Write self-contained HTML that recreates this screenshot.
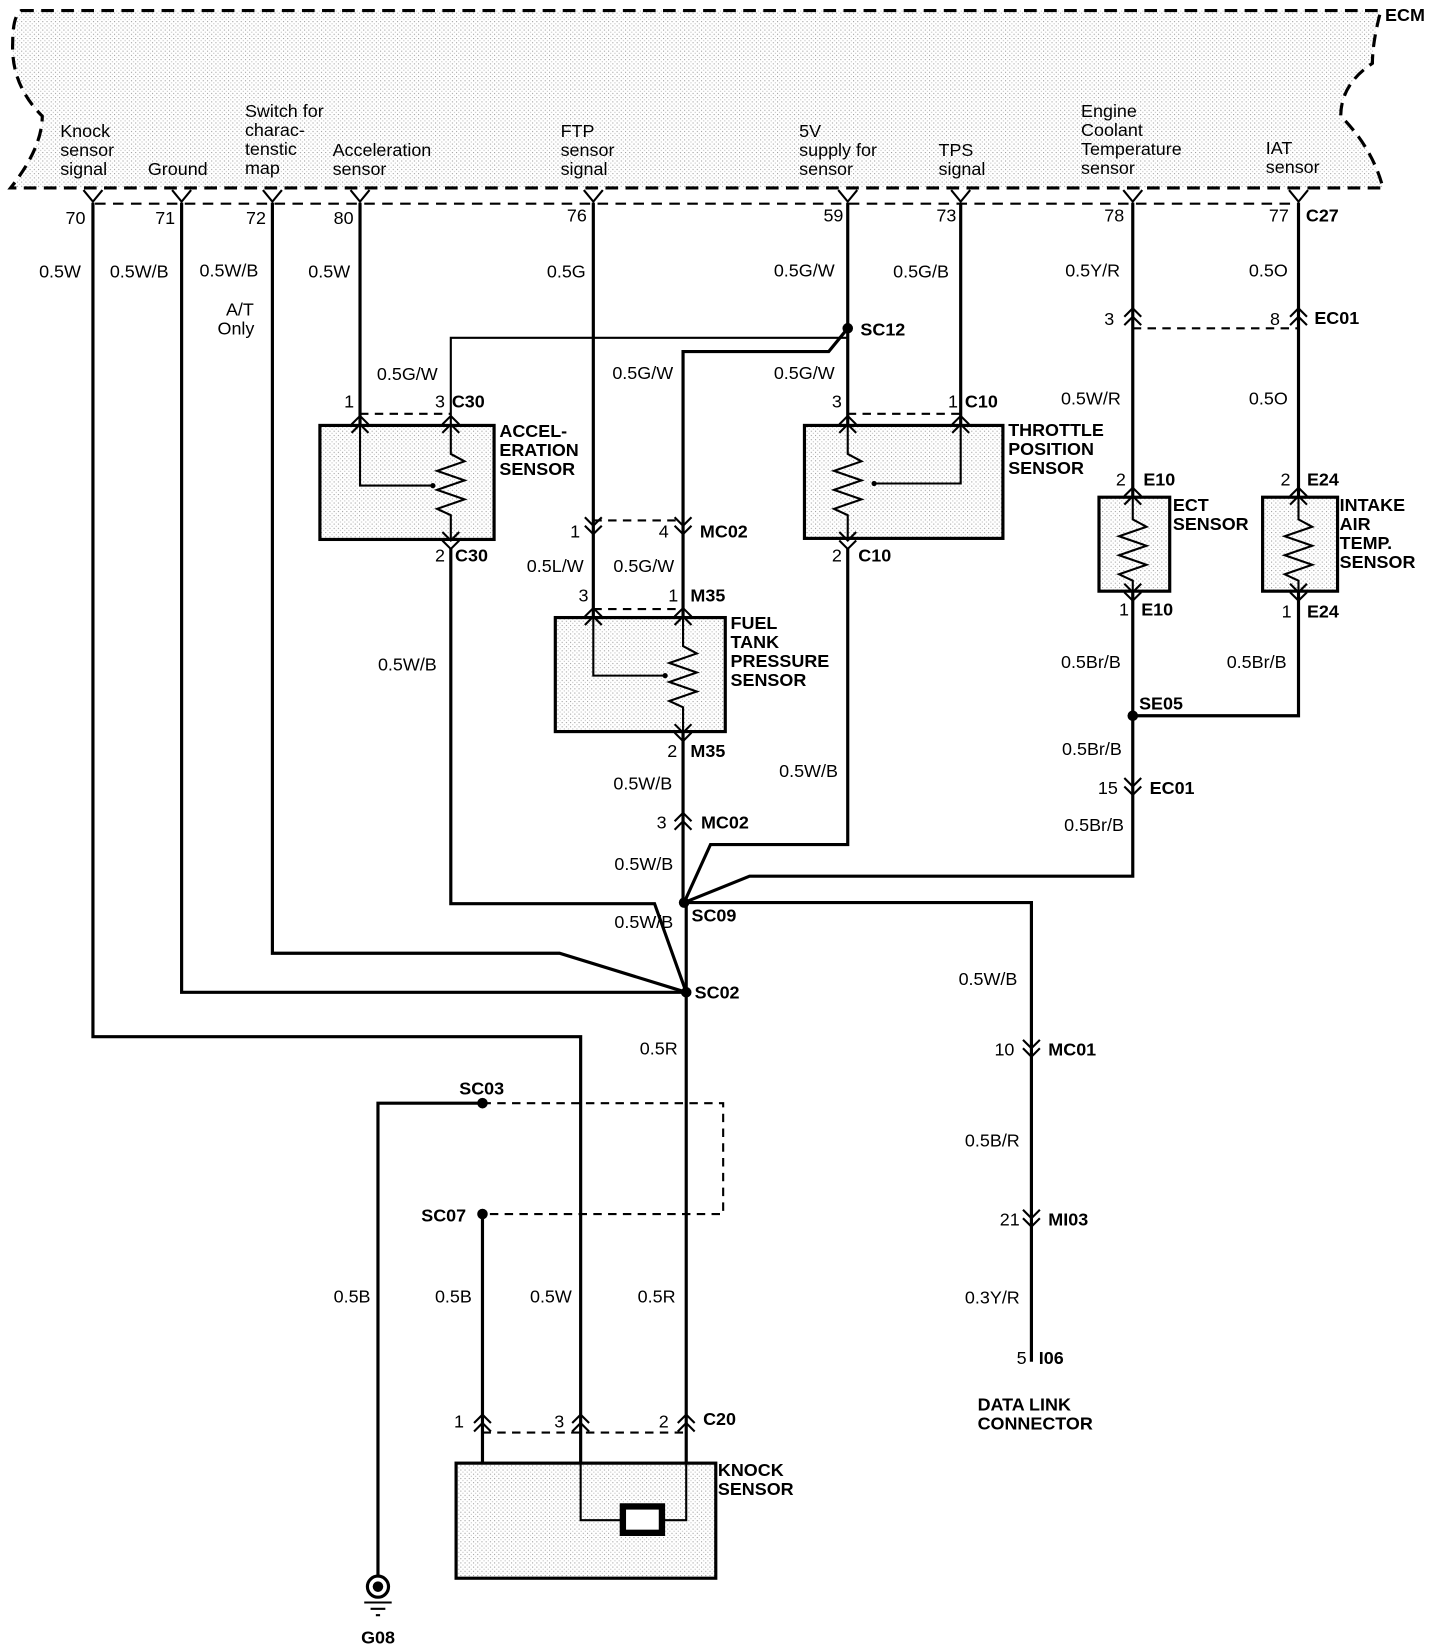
<!DOCTYPE html>
<html><head><meta charset="utf-8"><style>
html,body{margin:0;padding:0;background:#fff;}
svg{display:block}
text{font-family:"Liberation Sans",Arial,sans-serif;font-size:17px;fill:#000}
.b{font-weight:bold}
</style></head><body>
<svg width="1440" height="1650" viewBox="0 0 1364 1563" xmlns="http://www.w3.org/2000/svg">
<defs>
<pattern id="st" width="4" height="4" patternUnits="userSpaceOnUse"><rect width="4" height="4" fill="#fff"/><rect x="0" y="0" width="1" height="1" fill="#999"/><rect x="2" y="2" width="1" height="1" fill="#bbb"/></pattern>
</defs>
<!-- ECM -->
<path d="M20,10 L1308,10 Q1300,40 1300,60 Q1270,80 1270,110 Q1300,140 1310,178 L10,178 Q40,140 40,110 Q10,80 12,40 Q12,15 20,10 Z" fill="url(#st)" stroke="#000" stroke-width="3" stroke-dasharray="12,7"/>
<text x="1312" y="20" class="b">ECM</text>
<line x1="90" y1="193" x2="1230" y2="193" stroke="#000" stroke-width="2" stroke-dasharray="10,7"/>
<g>
<text x="57" y="130">Knock</text><text x="57" y="148">sensor</text><text x="57" y="166">signal</text>
<text x="140" y="166">Ground</text>
<text x="232" y="111">Switch for</text><text x="232" y="129">charac-</text><text x="232" y="147">tenstic</text><text x="232" y="165">map</text>
<text x="315" y="148">Acceleration</text><text x="315" y="166">sensor</text>
<text x="531" y="130">FTP</text><text x="531" y="148">sensor</text><text x="531" y="166">signal</text>
<text x="757" y="130">5V</text><text x="757" y="148">supply for</text><text x="757" y="166">sensor</text>
<text x="889" y="148">TPS</text><text x="889" y="166">signal</text>
<text x="1024" y="111">Engine</text><text x="1024" y="129">Coolant</text><text x="1024" y="147">Temperature</text><text x="1024" y="165">sensor</text>
<text x="1199" y="146">IAT</text><text x="1199" y="164">sensor</text>
</g>
<!-- Y pin marks -->
<g stroke="#000" stroke-width="2" fill="none">
<path d="M79,180 L88,191 L97,180 M163,180 L172,191 L181,180 M249,180 L258,191 L267,180 M332,180 L341,191 L350,180 M553,180 L562,191 L571,180 M794,180 L803,191 L812,180 M901,180 L910,191 L919,180 M1064,180 L1073,191 L1082,180 M1221,180 L1230,191 L1239,180"/>
</g>
<g font-size="17">
<text x="62" y="212">70</text><text x="147" y="212">71</text><text x="233" y="212">72</text><text x="316" y="212">80</text><text x="537" y="210">76</text><text x="780" y="210">59</text><text x="887" y="210">73</text><text x="1046" y="210">78</text><text x="1202" y="210">77</text><text x="1237" y="210" class="b">C27</text>
<text x="37" y="263">0.5W</text><text x="104" y="263">0.5W/B</text><text x="189" y="262">0.5W/B</text><text x="292" y="263">0.5W</text><text x="518" y="263">0.5G</text><text x="733" y="262">0.5G/W</text><text x="846" y="263">0.5G/B</text><text x="1009" y="262">0.5Y/R</text><text x="1183" y="262">0.5O</text>
<text x="214" y="299">A/T</text><text x="206" y="317">Only</text>
</g>
<!-- wires -->
<g stroke="#000" stroke-width="3" fill="none" stroke-linejoin="miter">
<path d="M88,192 V982 H550 V1440 H590"/>
<path d="M172,192 V940 H650"/>
<path d="M258,192 V903 H530 L650,940"/>
<path d="M341,192 V460 H410"/>
<path d="M427,519 V856 H620 L650,940"/>
<path d="M562,192 V648 H630"/>
<path d="M647,693 V855"/>
<path d="M803,192 V455"/>
<path d="M803,519 V800 H673 L648,855"/>
<path d="M910,192 V458 H828"/>
<path d="M1073,192 V830 H710 L648,855"/>
<path d="M1230,192 V678 H1073"/>
<path d="M648,855 H977 V1290"/>
<path d="M650,855 V1440 H627"/>
<path d="M458,1045 H358 V1492"/>
<path d="M457,1150 V1386"/>
<path d="M647,585 V333 H785 L803,311"/>
</g>
<path d="M427,403 V320 H803" stroke="#000" stroke-width="2" fill="none"/>
<!-- junction dots -->
<g fill="#000"><circle cx="803" cy="311" r="5"/><circle cx="648" cy="855" r="5"/><circle cx="650" cy="940" r="5"/><circle cx="1073" cy="678" r="5"/><circle cx="457" cy="1045" r="5"/><circle cx="457" cy="1150" r="5"/></g>
<g class="b">
<text x="815" y="318">SC12</text><text x="655" y="873">SC09</text><text x="658" y="946">SC02</text><text x="1079" y="672">SE05</text><text x="435" y="1037">SC03</text><text x="399" y="1157">SC07</text>
</g>
<!-- dashed groupings -->
<g stroke="#000" stroke-width="2" fill="none" stroke-dasharray="8,6">
<path d="M341,392 H427"/><path d="M803,392 H910"/><path d="M562,493 H647"/><path d="M562,577 H647"/>
<path d="M1073,311 H1230"/><path d="M457,1045 H685 V1150 H457"/><path d="M457,1357 H650"/>
</g>
<!-- boxes -->
<g stroke="#000" stroke-width="3" fill="url(#st)">
<rect x="303" y="403" width="165" height="108"/>
<rect x="526" y="585" width="161" height="108"/>
<rect x="762" y="403" width="188" height="107"/>
<rect x="1041" y="471" width="67" height="89"/>
<rect x="1196" y="471" width="71" height="89"/>
<rect x="432" y="1386" width="246" height="109"/>
</g>
<!-- resistors/internals -->
<g stroke="#000" stroke-width="2" fill="none">
<path d="M341,403 V460 H410"/><path d="M427,403 V430 L440,437 L414,446 L440,455 L414,464 L440,473 L414,482 L427,488 V511"/>
<path d="M562,585 V640 H630"/><path d="M647,585 V612 L660,619 L634,628 L660,637 L634,646 L660,655 L634,664 L647,670 V693"/>
<path d="M910,403 V458 H828"/><path d="M803,403 V430 L816,437 L790,446 L816,455 L790,464 L816,473 L790,482 L803,488 V510"/>
<path d="M1073,471 V492 L1086,499 L1060,508 L1086,517 L1060,526 L1086,535 L1060,544 L1073,550 V560"/>
<path d="M1230,471 V492 L1243,499 L1217,508 L1243,517 L1217,526 L1243,535 L1217,544 L1230,550 V560"/>
<path d="M550,1386 V1440 H590 M627,1440 H650 V1386"/>
</g>
<g fill="#000"><circle cx="410" cy="460" r="2.5"/><circle cx="630" cy="640" r="2.5"/><circle cx="828" cy="458" r="2.5"/></g>
<rect x="590" y="1427" width="37" height="25" fill="#fff" stroke="#000" stroke-width="6"/>
<!-- chevrons up (^) -->
<g stroke="#000" stroke-width="2" fill="none">
<path d="M333,402 L341,394 L349,402 M333,410 L341,402 L349,410"/>
<path d="M419,402 L427,394 L435,402 M419,410 L427,402 L435,410"/>
<path d="M795,402 L803,394 L811,402 M795,410 L803,402 L811,410"/>
<path d="M902,402 L910,394 L918,402 M902,410 L910,402 L918,410"/>
<path d="M554,584 L562,576 L570,584 M554,592 L562,584 L570,592"/>
<path d="M639,584 L647,576 L655,584 M639,592 L647,584 L655,592"/>
<path d="M1065,470 L1073,462 L1081,470 M1065,478 L1073,470 L1081,478"/>
<path d="M1222,470 L1230,462 L1238,470 M1222,478 L1230,470 L1238,478"/>
<path d="M1065,300 L1073,292 L1081,300 M1065,308 L1073,300 L1081,308"/>
<path d="M1222,300 L1230,292 L1238,300 M1222,308 L1230,300 L1238,308"/>
<path d="M639,778 L647,770 L655,778 M639,786 L647,778 L655,786"/>
<path d="M449,1348 L457,1340 L465,1348 M449,1356 L457,1348 L465,1356"/>
<path d="M542,1348 L550,1340 L558,1348 M542,1356 L550,1348 L558,1356"/>
<path d="M642,1348 L650,1340 L658,1348 M642,1356 L650,1348 L658,1356"/>
<!-- v chevrons -->
<path d="M419,512 L427,520 L435,512 M419,504 L427,512 L435,504"/>
<path d="M795,512 L803,520 L811,512 M795,504 L803,512 L811,504"/>
<path d="M639,694 L647,702 L655,694 M639,686 L647,694 L655,686"/>
<path d="M554,498 L562,506 L570,498 M554,490 L562,498 L570,490"/>
<path d="M639,498 L647,506 L655,498 M639,490 L647,498 L655,490"/>
<path d="M1065,561 L1073,569 L1081,561 M1065,553 L1073,561 L1081,553"/>
<path d="M1222,561 L1230,569 L1238,561 M1222,553 L1230,561 L1238,553"/>
<path d="M1065,745 L1073,753 L1081,745 M1065,737 L1073,745 L1081,737"/>
<path d="M969,993 L977,1001 L985,993 M969,985 L977,993 L985,985"/>
<path d="M969,1154 L977,1162 L985,1154 M969,1146 L977,1154 L985,1146"/>
</g>
<!-- pin/connector labels -->
<g>
<text x="326" y="386">1</text><text x="412" y="386">3</text><text x="428" y="386" class="b">C30</text>
<text x="412" y="532">2</text><text x="431" y="532" class="b">C30</text>
<text x="788" y="386">3</text><text x="898" y="386">1</text><text x="914" y="386" class="b">C10</text>
<text x="788" y="532">2</text><text x="813" y="532" class="b">C10</text>
<text x="540" y="509">1</text><text x="624" y="509">4</text><text x="663" y="509" class="b">MC02</text>
<text x="548" y="570">3</text><text x="633" y="570">1</text><text x="654" y="570" class="b">M35</text>
<text x="632" y="717">2</text><text x="654" y="717" class="b">M35</text>
<text x="622" y="785">3</text><text x="664" y="785" class="b">MC02</text>
<text x="1046" y="308">3</text><text x="1203" y="308">8</text><text x="1245" y="307" class="b">EC01</text>
<text x="1057" y="460">2</text><text x="1083" y="460" class="b">E10</text>
<text x="1213" y="460">2</text><text x="1238" y="460" class="b">E24</text>
<text x="1060" y="583">1</text><text x="1081" y="583" class="b">E10</text>
<text x="1214" y="585">1</text><text x="1238" y="585" class="b">E24</text>
<text x="1040" y="752">15</text><text x="1089" y="752" class="b">EC01</text>
<text x="942" y="1000">10</text><text x="993" y="1000" class="b">MC01</text>
<text x="947" y="1161">21</text><text x="993" y="1161" class="b">MI03</text>
<text x="963" y="1292">5</text><text x="984" y="1292" class="b">I06</text>
<text x="430" y="1352">1</text><text x="525" y="1352">3</text><text x="624" y="1352">2</text><text x="666" y="1350" class="b">C20</text>
</g>
<!-- wire labels -->
<g>
<text x="357" y="360">0.5G/W</text><text x="580" y="359">0.5G/W</text><text x="733" y="359">0.5G/W</text>
<text x="1005" y="383">0.5W/R</text><text x="1183" y="383">0.5O</text>
<text x="499" y="542">0.5L/W</text><text x="581" y="542">0.5G/W</text>
<text x="358" y="635">0.5W/B</text><text x="1005" y="633">0.5Br/B</text><text x="1162" y="633">0.5Br/B</text>
<text x="581" y="748">0.5W/B</text><text x="738" y="736">0.5W/B</text><text x="1006" y="715">0.5Br/B</text><text x="1008" y="787">0.5Br/B</text>
<text x="582" y="824">0.5W/B</text><text x="582" y="879">0.5W/B</text>
<text x="908" y="933">0.5W/B</text><text x="606" y="999">0.5R</text>
<text x="914" y="1086">0.5B/R</text><text x="914" y="1235">0.3Y/R</text>
<text x="316" y="1234">0.5B</text><text x="412" y="1234">0.5B</text><text x="502" y="1234">0.5W</text><text x="604" y="1234">0.5R</text>
</g>
<g class="b">
<text x="473" y="414">ACCEL-</text><text x="473" y="432">ERATION</text><text x="473" y="450">SENSOR</text>
<text x="692" y="596">FUEL</text><text x="692" y="614">TANK</text><text x="692" y="632">PRESSURE</text><text x="692" y="650">SENSOR</text>
<text x="955" y="413">THROTTLE</text><text x="955" y="431">POSITION</text><text x="955" y="449">SENSOR</text>
<text x="1111" y="484">ECT</text><text x="1111" y="502">SENSOR</text>
<text x="1269" y="484">INTAKE</text><text x="1269" y="502">AIR</text><text x="1269" y="520">TEMP.</text><text x="1269" y="538">SENSOR</text>
<text x="926" y="1336">DATA LINK</text><text x="926" y="1354">CONNECTOR</text>
<text x="680" y="1398">KNOCK</text><text x="680" y="1416">SENSOR</text>
<text x="342" y="1557">G08</text>
</g>
<!-- ground symbol -->
<circle cx="358" cy="1503" r="10" fill="#fff" stroke="#000" stroke-width="3"/>
<circle cx="358" cy="1503" r="5" fill="#000"/>
<path d="M345,1518 H371 M351,1524 H365 M356,1530 H360" stroke="#000" stroke-width="2"/>
</svg>
</body></html>
